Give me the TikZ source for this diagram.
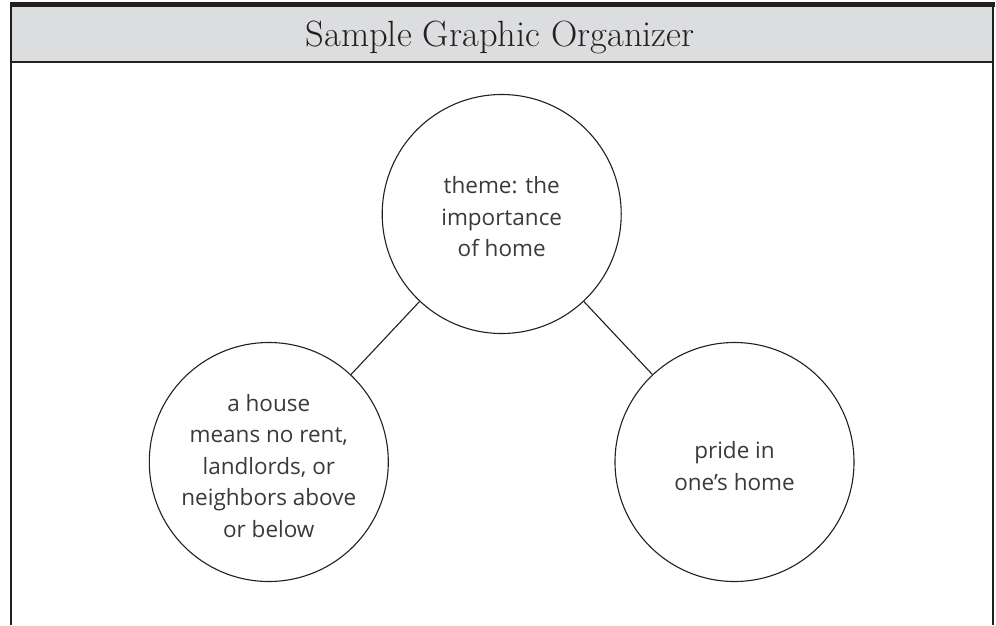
\documentclass[tikz,border=0pt]{standalone}
\usepackage{fontspec}
\newfontfamily\handfont{Open Sans}
\definecolor{ink}{HTML}{231F20}
\definecolor{band}{HTML}{DCDDDF}
\definecolor{txt}{HTML}{3A3A3A}
\begin{document}
\begin{tikzpicture}[x=1pt,y=-1pt,
  bubble/.style={circle,draw=ink,line width=1.1pt,minimum size=239pt,inner sep=0pt},
  bubbletext/.style={align=center,text=txt,font=\handfont\fontsize{22.5}{31.5}\selectfont,inner sep=0pt},
  conn/.style={draw=ink,line width=1.1pt},
  frame/.style={draw=ink,line width=2pt}]
\useasboundingbox (0,0) rectangle (996,625);
% header
\fill[band] (11,7.3) rectangle (993,62.3);
\fill[ink] (10,2.3) rectangle (994.5,7.3);
\draw[frame] (11,62.3) -- (993,62.3);
\draw[frame] (11,2.3) -- (11,625);
\draw[frame] (993,2.3) -- (993,625);
\node[anchor=base,text=ink,font=\fontsize{36.5}{44}\selectfont] (title) at (500,46) {Sample Graphic Organizer};
% circles
\node[bubble] (top) at (501.7,214) {};
\node[bubble] (left) at (268.8,462) {};
\node[bubble] (right) at (734.5,462) {};
\node[bubbletext] (toptext) at ([yshift=-3pt]top.center) {theme: the\\importance\\of home};
\node[bubbletext] (lefttext) at ([yshift=-4pt]left.center) {a house\\means no rent,\\landlords, or\\neighbors above\\or below};
\node[bubbletext] (righttext) at ([yshift=-4pt]right.center) {pride in\\one’s home};
% connectors
\draw[conn] (top) -- (left);
\draw[conn] (top) -- (right);
\end{tikzpicture}
\end{document}
